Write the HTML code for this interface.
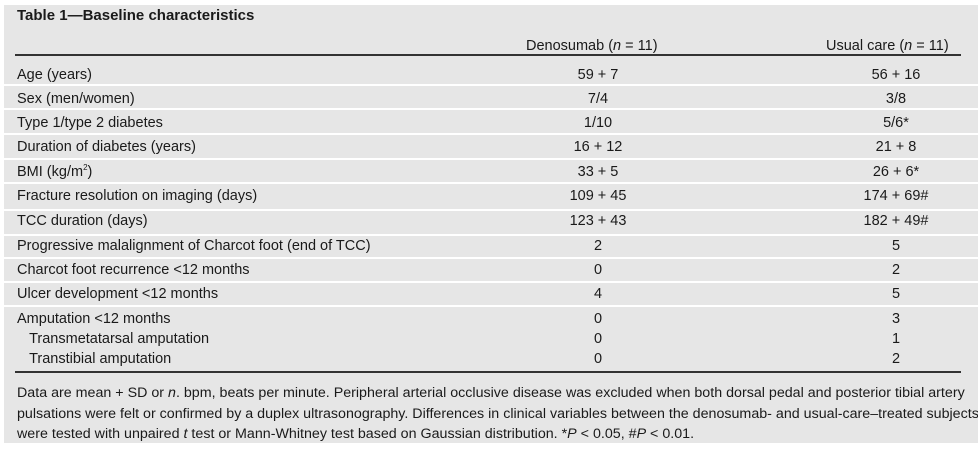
<!DOCTYPE html>
<html><head><meta charset="utf-8"><style>
body{margin:0;background:#fff;width:978px;height:450px;overflow:hidden;font-family:"Liberation Sans",sans-serif;color:#1a1a1a}
#panel{position:absolute;left:4px;top:5px;width:974px;height:438px;background:#e6e6e6}
.t{position:absolute;font-size:14.5px;white-space:nowrap;line-height:16px}
.c1{left:548px;width:100px;text-align:center}
.c2{left:846px;width:100px;text-align:center}
.sep{position:absolute;left:4px;width:974px;height:2px;background:#fff}
.rule{position:absolute;left:15px;width:946px;height:1.5px;background:#333}
.foot{position:absolute;left:17px;font-size:13.4px;white-space:nowrap;line-height:16px;transform:scaleX(1.065);transform-origin:0 0}
sup{font-size:8px;line-height:0;vertical-align:6px}
</style></head><body>
<div id="panel"></div>
<div class="t" style="left:17px;top:8px;font-weight:bold;font-size:15px">Table 1—Baseline characteristics</div>
<div class="t" style="left:526px;top:38px">Denosumab (<i>n</i> = 11)</div>
<div class="t" style="left:826px;top:38px">Usual care (<i>n</i> = 11)</div>
<div class="rule" style="top:54px"></div>
<div class="rule" style="top:371px"></div>
<div id="rows"></div>
<div class="foot" style="top:385px">Data are mean + SD or <i>n</i>. bpm, beats per minute. Peripheral arterial occlusive disease was excluded when both dorsal pedal and posterior tibial artery</div>
<div class="foot" style="top:406px">pulsations were felt or confirmed by a duplex ultrasonography. Differences in clinical variables between the denosumab- and usual-care–treated subjects</div>
<div class="foot" style="top:426px">were tested with unpaired <i>t</i> test or Mann-Whitney test based on Gaussian distribution. *<i>P</i> &lt; 0.05, #<i>P</i> &lt; 0.01.</div>
<script>
const labels=["Age (years)","Sex (men/women)","Type 1/type 2 diabetes","Duration of diabetes (years)","BMI (kg/m<sup>2</sup>)","Fracture resolution on imaging (days)","TCC duration (days)","Progressive malalignment of Charcot foot (end of TCC)","Charcot foot recurrence &lt;12 months","Ulcer development &lt;12 months","Amputation &lt;12 months","&nbsp;&nbsp;&nbsp;Transmetatarsal amputation","&nbsp;&nbsp;&nbsp;Transtibial amputation"];
const denosumab=["59 + 7","7/4","1/10","16 + 12","33 + 5","109 + 45","123 + 43","2","0","4","0","0","0"];
const usualCare=["56 + 16","3/8","5/6*","21 + 8","26 + 6*","174 + 69#","182 + 49#","5","2","5","3","1","2"];
const textY=[67,91,115,139,164,188,213,238,262,286,311,331,351];
const seps=[85,109,134,159,183,210,235,258,282,306];
const rows=document.getElementById('rows');
seps.forEach(y=>{const s=document.createElement('div');s.className='sep';s.style.top=(y-1)+'px';


rows.appendChild(s);});
labels.forEach((l,i)=>{
const a=document.createElement('div');a.className='t';a.style.left='17px';a.style.top=textY[i]+'px';a.innerHTML=l;


rows.appendChild(a);
const b=document.createElement('div');b.className='t c1';b.style.top=textY[i]+'px';b.textContent=denosumab[i];


rows.appendChild(b);
const c=document.createElement('div');c.className='t c2';c.style.top=textY[i]+'px';c.textContent=usualCare[i];


rows.appendChild(c);
});
</script>
</body></html>
